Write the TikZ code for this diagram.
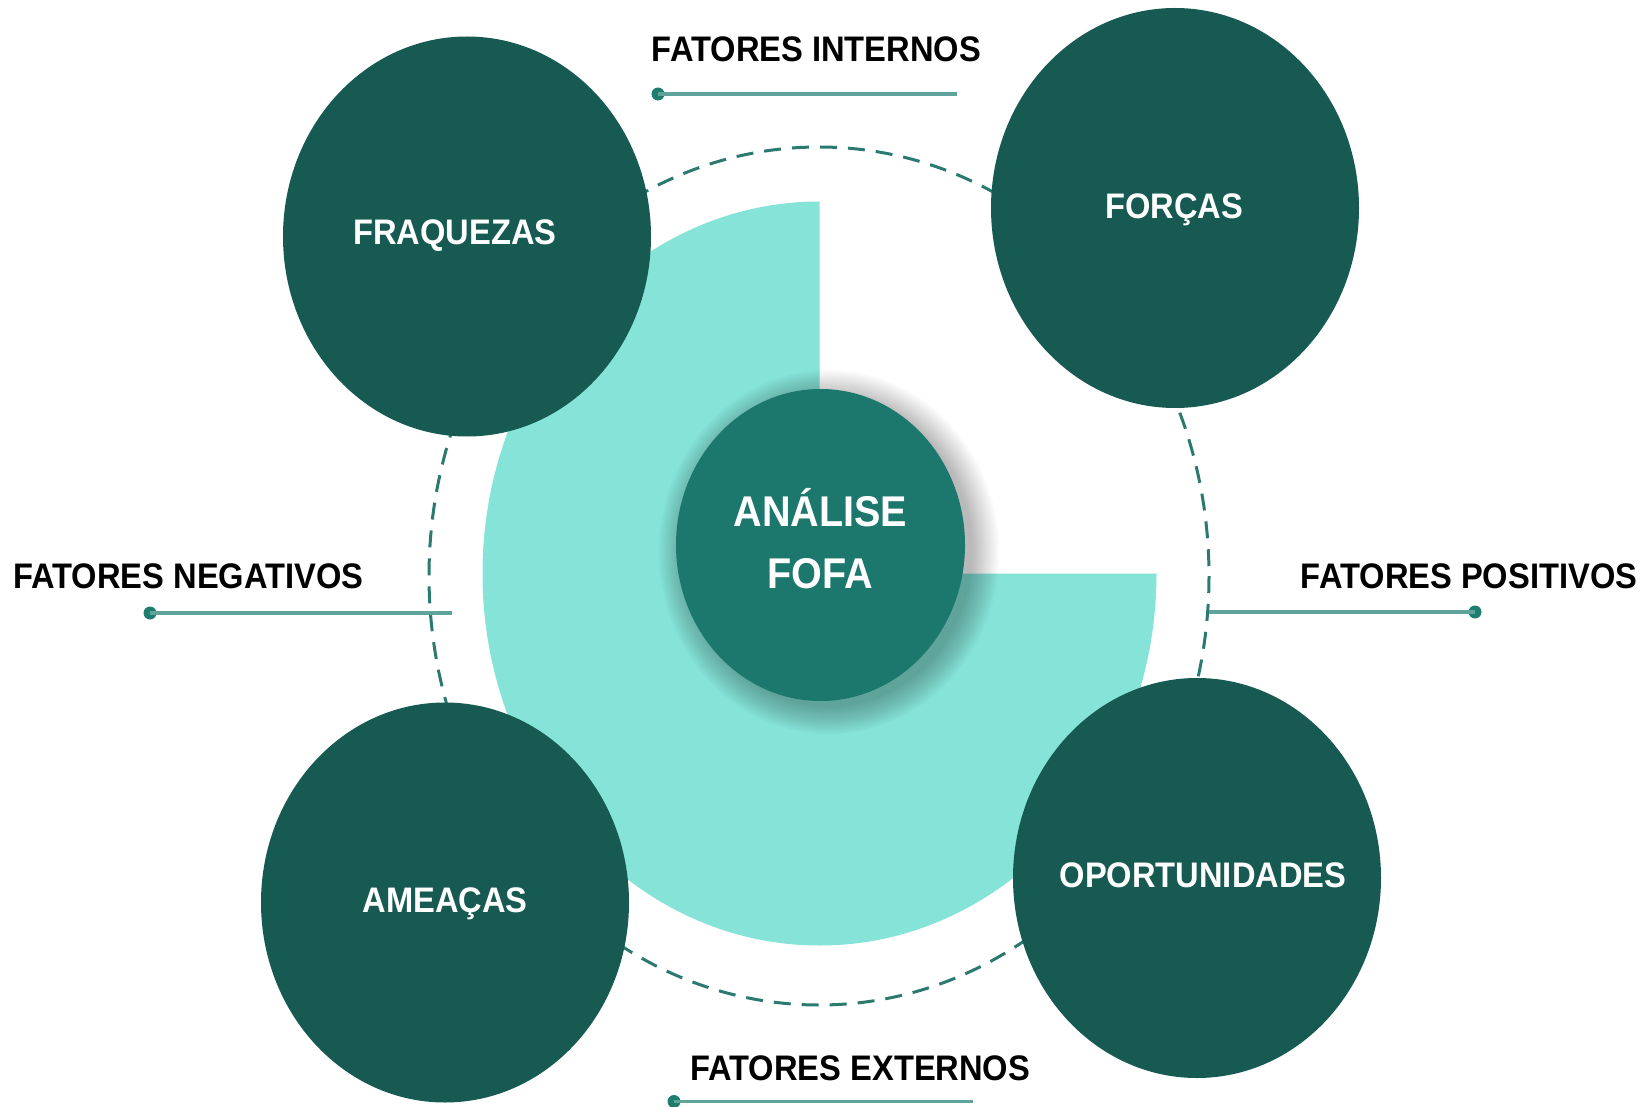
\documentclass[tikz,border=0pt]{standalone}
\usepackage{fontspec}
\setmainfont{Liberation Sans}[FakeStretch=0.92]
\usetikzlibrary{shapes.geometric}
\definecolor{darkc}{HTML}{165A52}
\definecolor{midc}{HTML}{1C776C}
\definecolor{lightc}{HTML}{85E3D8}
\definecolor{dashc}{HTML}{2B7A70}
\definecolor{linec}{HTML}{5FA39A}
\definecolor{dotc}{HTML}{1F7D70}
\begin{document}
\begin{tikzpicture}[x=1pt,y=-1pt,
  bigc/.style={ellipse, fill=darkc, minimum width=368pt, minimum height=400pt, inner sep=0pt},
  ctext/.style={text=white, font=\bfseries\fontsize{35.5}{40}\selectfont, inner sep=0pt, text height=25.4pt, text depth=0pt},
  htext/.style={text=white, font=\bfseries\fontsize{43}{50}\selectfont, inner sep=0pt, text height=30.8pt, text depth=0pt},
  ftext/.style={text=black, font=\bfseries\fontsize{35.5}{40}\selectfont, inner sep=0pt, text height=25.4pt, text depth=0pt, anchor=west},
  fline/.style={draw=linec, line width=3.2pt},
  fdot/.style={circle, fill=dotc, minimum size=13pt, inner sep=0pt},
]
\fill[white] (0,0) rectangle (1641,1107);
\useasboundingbox (0,0) rectangle (1641,1107);

% dashed ring
\draw[dashc, line width=3pt, dash pattern=on 17pt off 11pt] (819,576) ellipse [x radius=390, y radius=429];

% three-quarter disk
\fill[lightc] (819.5,573.5) -- ++(337,0) arc[start angle=0, end angle=270, x radius=337, y radius=372] -- cycle;

% factor lines
\node[fdot] (inD) at (658,94) {};
\coordinate (inE) at (957,94);
\draw[fline] (inD.center) -- (inE);
\node[fdot] (negD) at (150,613) {};
\coordinate (negE) at (452,613);
\draw[fline] (negD.center) -- (negE);
\node[fdot] (posD) at (1475,612) {};
\coordinate (posE) at (1209,612);
\draw[fline] (posE) -- (posD.center);
\node[fdot] (exD) at (674,1101.5) {};
\coordinate (exE) at (973,1101.5);
\draw[fline] (exD.center) -- (exE);

% labels
\node[ftext] (inT) at (651.7,49) {FATORES INTERNOS};
\node[ftext] (negT) at (13,576) {FATORES NEGATIVOS};
\node[ftext] (posT) at (1300.7,576) {FATORES POSITIVOS};
\node[ftext] (exT) at (690,1067.5) {FATORES EXTERNOS};

% shadow of centre
\foreach \i in {0,...,17}
  \fill[black, opacity=0.017] (829,552) ellipse [x radius={143+\i*1.6}, y radius={155+\i*1.6}];

% centre
\node[ellipse, fill=midc, minimum width=289pt, minimum height=312pt, inner sep=0pt] (center) at (820.5,545) {};
\node[htext] (cT1) at (820.5,511) {ANÁLISE};
\node[htext] (cT2) at (820.5,573.5) {FOFA};

% four circles
\node[bigc] (fraq) at (467,236.5) {};
\node[bigc] (forc) at (1175,208) {};
\node[bigc] (amea) at (445,902.5) {};
\node[bigc] (opor) at (1197,878) {};

\node[ctext] (fraqT) at (455,232) {FRAQUEZAS};
\node[ctext] (forcT) at (1174,206) {FORÇAS};
\node[ctext] (ameaT) at (445,900) {AMEAÇAS};
\node[ctext] (oporT) at (1203,875) {OPORTUNIDADES};
\end{tikzpicture}
\end{document}
